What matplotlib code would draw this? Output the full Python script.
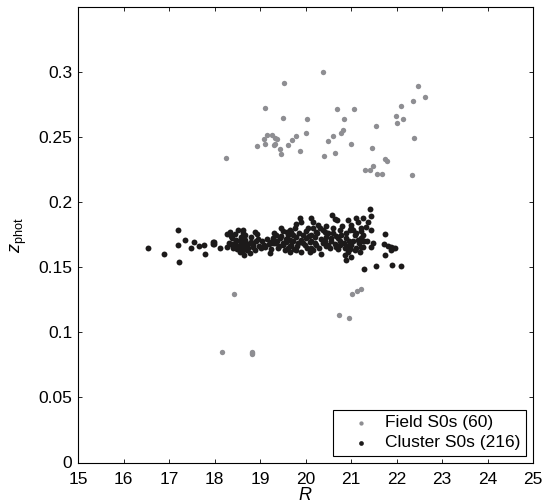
import matplotlib
matplotlib.use("Agg")
import matplotlib.pyplot as plt
from matplotlib.ticker import FixedLocator, FixedFormatter

plt.rcParams['font.family'] = ['Liberation Sans', 'DejaVu Sans']
plt.rcParams['mathtext.fontset'] = 'custom'
plt.rcParams['mathtext.rm'] = 'Liberation Sans'
plt.rcParams['mathtext.it'] = 'Liberation Sans:italic'

# Field S0s (R, z_phot)
field_R = [18.26, 18.93, 19.10, 19.08, 19.10, 19.16, 19.27, 19.32, 19.37, 19.30,
           19.34, 19.45, 19.46, 19.53, 19.51, 19.62, 19.71, 19.79, 19.89, 20.00,
           20.04, 20.39, 20.40, 20.49, 20.61, 20.65, 20.70, 20.79, 20.83, 20.84,
           21.01, 21.06, 21.46, 21.54, 21.31, 21.42, 21.48, 21.58, 21.68, 21.75,
           21.79, 21.98, 22.01, 22.09, 22.14, 22.37, 22.38, 22.33, 22.47, 22.62,
           18.43, 18.16, 18.83, 18.83, 20.73, 20.95, 21.03, 21.13, 21.22, 18.83]
field_z = [0.2339, 0.2433, 0.2722, 0.2482, 0.2449, 0.2518, 0.2518, 0.2492, 0.2487, 0.2436,
           0.2446, 0.2410, 0.2370, 0.2919, 0.2646, 0.2439, 0.2477, 0.2505, 0.2393, 0.2528,
           0.2636, 0.2998, 0.2357, 0.2467, 0.2505, 0.2375, 0.2715, 0.2528, 0.2556, 0.2638,
           0.2449, 0.2715, 0.2413, 0.2587, 0.2245, 0.2249, 0.2275, 0.2214, 0.2219, 0.2334,
           0.2316, 0.2663, 0.2605, 0.2743, 0.2638, 0.2778, 0.2495, 0.2206, 0.2893, 0.2809,
           0.1291, 0.0849, 0.0849, 0.0831, 0.1135, 0.1114, 0.1296, 0.1317, 0.1332, 0.0840]

# Cluster S0s (R, z_phot)
cluster_R = [
    16.54, 16.89, 17.20, 17.19, 17.22, 17.36, 17.49, 17.54, 17.65, 17.78, 17.79, 17.97, 17.99,
    21.41, 21.43, 21.27, 21.38, 21.34, 21.44, 21.27, 21.29, 21.48, 21.45, 21.27, 21.74, 21.72,
    21.82, 21.88, 21.93, 21.89, 21.97, 21.75, 21.29, 21.56, 21.91, 22.10,
    17.97, 17.99, 18.13, 18.28, 18.28, 18.35, 18.44, 18.39, 18.52, 18.63, 18.58, 18.66, 18.46,
    18.52, 18.58, 18.63, 18.66, 18.70, 18.74, 18.65, 18.80, 18.81, 18.85, 18.90, 18.94, 18.88,
    19.03, 19.09, 19.21, 19.24, 19.29, 19.32, 19.36, 19.43, 19.47, 19.51, 19.51, 19.58, 19.62,
    19.62, 19.65, 19.40, 18.55, 18.77, 18.37, 18.41,
    19.89, 19.91, 19.80, 20.13, 20.17, 20.28, 20.31, 20.06, 20.59, 20.65, 20.94, 21.12, 21.16,
    21.01, 21.05, 21.23, 19.69, 19.73, 19.80, 19.65, 19.95, 20.02, 20.13, 20.20, 20.24, 20.43,
    20.46, 20.57, 20.61, 20.76, 20.79, 20.72, 20.90, 20.98, 21.09, 21.16, 21.23, 19.69, 19.84,
    19.98, 20.09, 20.24, 20.39, 20.50, 20.54, 20.68, 20.76, 20.87, 21.01, 21.12, 21.23, 19.65,
    19.80, 19.91, 20.13, 20.17, 20.35, 20.87, 20.94, 21.01, 20.90, 21.20,
    18.32, 18.40, 18.48, 18.50, 18.56, 18.60, 18.68, 18.72, 18.78, 18.84, 18.92, 18.98,
    19.05, 19.12, 19.15, 19.20, 19.25, 19.30, 19.38, 19.42, 19.47, 19.50, 19.55, 19.58, 19.60, 19.66,
    19.72, 19.76, 19.82, 19.86, 19.90, 19.95, 20.00, 20.04, 20.08, 20.12, 20.16, 20.20, 20.26,
    20.30, 20.34, 20.38, 20.42, 20.46, 20.50,
    20.55, 20.60, 20.64, 20.68, 20.72, 20.76, 20.80, 20.84, 20.88, 20.92, 20.96, 21.00, 21.04,
    21.08, 21.12, 21.18, 21.22, 21.26,
    18.36, 18.62, 18.96, 19.28, 19.74, 20.10, 20.44, 20.70, 20.98, 21.36]
cluster_z = [
    0.1649, 0.1603, 0.1785, 0.1674, 0.1541, 0.1710, 0.1646, 0.1697, 0.1664, 0.1672, 0.1603, 0.1677, 0.1697,
    0.1948, 0.1892, 0.1877, 0.1850, 0.1812, 0.1787, 0.1748, 0.1705, 0.1689, 0.1659, 0.1654, 0.1754, 0.1677,
    0.1666, 0.1654, 0.1651, 0.1633, 0.1646, 0.1595, 0.1488, 0.1511, 0.1516, 0.1508,
    0.1697, 0.1677, 0.1651, 0.1659, 0.1754, 0.1774, 0.1754, 0.1728, 0.1787, 0.1787, 0.1735, 0.1748, 0.1685,
    0.1666, 0.1646, 0.1633, 0.1685, 0.1666, 0.1646, 0.1595, 0.1735, 0.1697, 0.1659, 0.1774, 0.1754, 0.1633,
    0.1646, 0.1672, 0.1608, 0.1697, 0.1728, 0.1685, 0.1748, 0.1723, 0.1804, 0.1779, 0.1672, 0.1697, 0.1748,
    0.1646, 0.1787, 0.1646, 0.1620, 0.1608, 0.1677, 0.1646,
    0.1881, 0.1850, 0.1830, 0.1881, 0.1850, 0.1825, 0.1800, 0.1800, 0.1902, 0.1871, 0.1863, 0.1881, 0.1850,
    0.1825, 0.1787, 0.1800, 0.1774, 0.1748, 0.1735, 0.1710, 0.1748, 0.1723, 0.1748, 0.1735, 0.1774, 0.1774,
    0.1735, 0.1723, 0.1762, 0.1787, 0.1748, 0.1723, 0.1723, 0.1787, 0.1748, 0.1710, 0.1723, 0.1672, 0.1685,
    0.1672, 0.1697, 0.1672, 0.1685, 0.1672, 0.1646, 0.1659, 0.1672, 0.1646, 0.1672, 0.1646, 0.1659, 0.1620,
    0.1633, 0.1620, 0.1646, 0.1633, 0.1600, 0.1595, 0.1620, 0.1582, 0.1557, 0.1620,
    0.1690, 0.1665, 0.1712, 0.1640, 0.1700, 0.1672, 0.1710, 0.1630, 0.1690, 0.1675, 0.1700, 0.1660,
    0.1700, 0.1655, 0.1720, 0.1680, 0.1640, 0.1760, 0.1700, 0.1660, 0.1740, 0.1690, 0.1630, 0.1720, 0.1770, 0.1660,
    0.1700, 0.1800, 0.1660, 0.1760, 0.1710, 0.1690, 0.1780, 0.1650, 0.1740, 0.1700, 0.1800, 0.1690, 0.1760,
    0.1650, 0.1720, 0.1790, 0.1700, 0.1660, 0.1760,
    0.1700, 0.1800, 0.1680, 0.1740, 0.1640, 0.1700, 0.1820, 0.1690, 0.1760, 0.1660, 0.1700, 0.1800, 0.1700,
    0.1630, 0.1760, 0.1690, 0.1780, 0.1700,
    0.1740, 0.1760, 0.1720, 0.1690, 0.1640, 0.1620, 0.1820, 0.1860, 0.1640, 0.1700]

x_ticks = [15, 16, 17, 18, 19, 20, 21, 22, 23, 24, 25]
y_ticks = [0, 0.05, 0.1, 0.15, 0.2, 0.25, 0.3]
y_tick_labels = ['0', '0.05', '0.1', '0.15', '0.2', '0.25', '0.3']

fig = plt.figure(figsize=(5.44, 5.03), dpi=100)
ax = fig.add_axes([78/544, 1 - 462.5/503, 455/544, (462.5 - 7)/503])

ax.scatter(field_R, field_z, s=15, color='#8e8e92', linewidths=0,
           label='Field S0s (60)', zorder=3)
ax.scatter(cluster_R, cluster_z, s=18, color='#1c1a1a', linewidths=0,
           label='Cluster S0s (216)', zorder=3)

ax.set_xlim(15, 25)
ax.set_ylim(0, 0.35)
ax.xaxis.set_major_locator(FixedLocator(x_ticks))
ax.yaxis.set_major_locator(FixedLocator(y_ticks))
ax.yaxis.set_major_formatter(FixedFormatter(y_tick_labels))
ax.tick_params(direction='in', top=True, right=True, length=3, width=0.6,
               labelsize=12.5)
ax.tick_params(axis='x', pad=6.5)
ax.tick_params(axis='y', pad=4)
for sp in ax.spines.values():
    sp.set_linewidth(0.8)

ax.set_xlabel(r'$\mathit{R}$', fontsize=13, labelpad=0)
ax.set_ylabel(r'$\mathit{z}_{\mathrm{phot}}$', fontsize=13, labelpad=7)

leg = ax.legend(loc='lower right', fontsize=12.5, frameon=True, fancybox=False,
                edgecolor='black', framealpha=1, borderaxespad=0.4,
                handlelength=2.7, handletextpad=0.05, labelspacing=0.28,
                borderpad=0.3, scatterpoints=1, markerscale=0.8)
leg.get_frame().set_linewidth(0.8)

fig.savefig('out.png', dpi=100)
